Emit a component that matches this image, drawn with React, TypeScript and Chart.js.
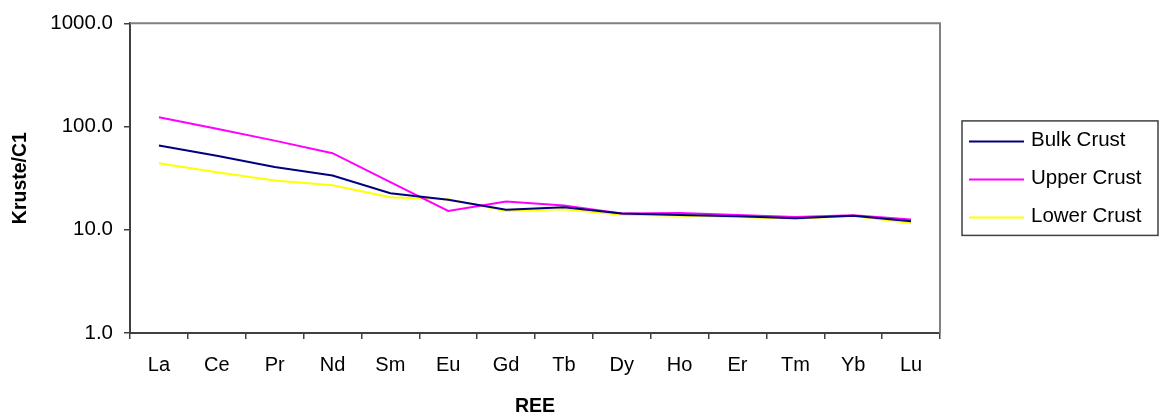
import React, { useEffect, useRef } from 'react';
import { Chart, registerables } from 'chart.js';

Chart.register(...registerables);

const categories = ['La', 'Ce', 'Pr', 'Nd', 'Sm', 'Eu', 'Gd', 'Tb', 'Dy', 'Ho', 'Er', 'Tm', 'Yb', 'Lu'];
const bulkCrust = [65.6, 52, 40.5, 33.6, 22.6, 19.5, 15.6, 16.5, 14.4, 13.9, 13.5, 12.9, 13.7, 12.1];
const upperCrust = [123, 95, 73, 55.2, 29, 15.2, 18.8, 17.2, 14.4, 14.5, 13.9, 13.3, 13.8, 12.6];
const lowerCrust = [44, 36, 30, 27, 20.7, 19.8, 15.2, 15.8, 14.0, 13.7, 13.3, 12.8, 13.6, 11.6];
const seriesNames = ['Bulk Crust', 'Upper Crust', 'Lower Crust'];
const seriesColors = ['#000080', '#FF00FF', '#FFFF00'];
const yTicks = [1, 10, 100, 1000];
const xTitle = 'REE';
const yTitle = 'Kruste/C1';

const FONT = "'Liberation Sans', Arial, Helvetica, sans-serif";

const framePlugin = {
  id: 'frameAndLegend',
  afterDraw(chart: any) {
    const { ctx, chartArea: a } = chart;
    ctx.save();
    // top & right frame
    ctx.strokeStyle = '#808080';
    ctx.lineWidth = 2;
    ctx.beginPath();
    ctx.moveTo(a.left, a.top);
    ctx.lineTo(a.right, a.top);
    ctx.lineTo(a.right, a.bottom);
    ctx.stroke();

    // legend
    const ds = chart.data.datasets;
    const rowH = 38;
    const boxW = 196;
    const boxH = rowH * ds.length + 0.5;
    const bx = a.right + 22;
    const by = (a.top + a.bottom) / 2 - boxH / 2;
    ctx.strokeStyle = '#404040';
    ctx.lineWidth = 1.5;
    ctx.strokeRect(bx, by, boxW, boxH);
    ctx.font = `20.5px ${FONT}`;
    ctx.textBaseline = 'middle';
    ctx.textAlign = 'left';
    ds.forEach((d: any, i: number) => {
      const cy = by + 20.5 + i * rowH;
      ctx.strokeStyle = d.borderColor;
      ctx.lineWidth = 2;
      ctx.beginPath();
      ctx.moveTo(bx + 7, cy);
      ctx.lineTo(bx + 62, cy);
      ctx.stroke();
      ctx.fillStyle = '#000';
      ctx.fillText(d.label, bx + 69, cy - 1);
    });
    ctx.restore();
  },
};

export default function App() {
  const ref = useRef<HTMLCanvasElement>(null);
  useEffect(() => {
    if (!ref.current) return;
    const series = [bulkCrust, upperCrust, lowerCrust];
    const chart = new Chart(ref.current, {
      type: 'line',
      data: {
        labels: categories,
        datasets: series.map((s, i) => ({
          label: seriesNames[i],
          data: s,
          borderColor: seriesColors[i],
          backgroundColor: seriesColors[i],
          borderWidth: 2,
          pointRadius: 0,
          tension: 0,
          fill: false,
        })),
      },
      options: {
        animation: false,
        responsive: false,
        maintainAspectRatio: false,
        layout: { padding: { top: 23, right: 219, bottom: 0, left: 0 } },
        plugins: {
          legend: { display: false },
          tooltip: { enabled: false },
        },
        scales: {
          x: {
            type: 'category',
            offset: true,
            grid: {
              display: true,
              drawOnChartArea: false,
              drawTicks: true,
              tickLength: 6,
              color: '#404040',
              lineWidth: 1.5,
              offset: true,
            },
            border: { display: true, color: '#404040', width: 2 },
            ticks: {
              color: '#000',
              font: { size: 20, family: FONT },
              padding: 14,
              maxRotation: 0,
              autoSkip: false,
            },
            title: {
              display: true,
              text: xTitle,
              color: '#000',
              font: { size: 19.5, family: FONT, weight: 'bold', lineHeight: 0.79 },
              padding: { top: 0, bottom: 0 },
            },
            afterFit(s: any) {
              s.height = 81;
            },
          },
          y: {
            type: 'logarithmic',
            min: 1,
            max: 1000,
            afterBuildTicks(s: any) {
              s.ticks = yTicks.map((v) => ({ value: v }));
            },
            grid: {
              display: true,
              drawOnChartArea: false,
              drawTicks: true,
              tickLength: 6,
              color: '#404040',
              lineWidth: 1.5,
            },
            border: { display: true, color: '#404040', width: 2 },
            ticks: {
              color: '#000',
              font: { size: 20.5, family: FONT },
              padding: 11,
              callback: (v: any) => Number(v).toFixed(1),
            },
            title: {
              display: true,
              text: yTitle,
              color: '#000',
              font: { size: 19.5, family: FONT, weight: 'bold', lineHeight: 1.2 },
              padding: { top: 9, bottom: 0 },
            },
            afterFit(s: any) {
              s.width = 130;
            },
          },
        },
      },
      plugins: [framePlugin],
    } as any);
    return () => chart.destroy();
  }, []);
  return (
    <div style={{ position: 'absolute', left: 0, top: 0, width: 1159, height: 414, background: '#fff' }}>
      <canvas ref={ref} width={1159} height={414} style={{ display: 'block' }} />
    </div>
  );
}
